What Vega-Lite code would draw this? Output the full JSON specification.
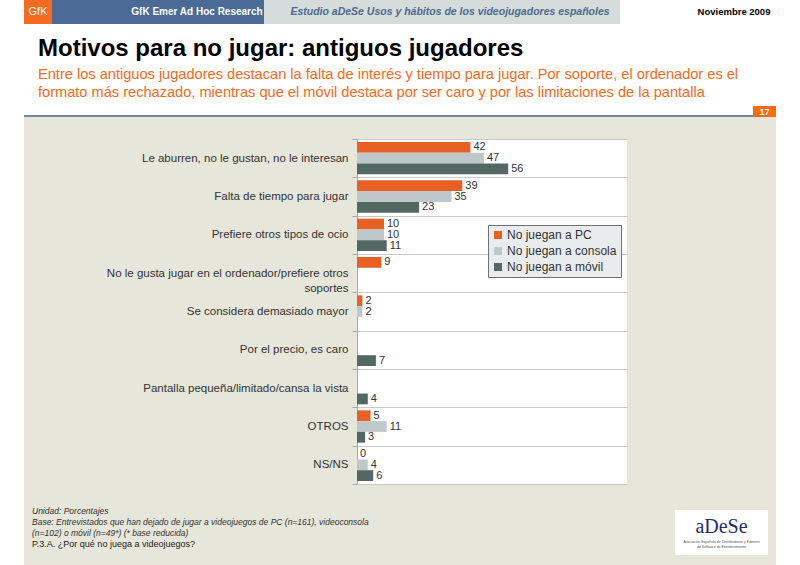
{
  "$schema": "https://vega.github.io/schema/vega-lite/v6.json",
  "background": "#E7E6DA",
  "padding": 0,
  "spacing": 0,
  "config": {"view": {"stroke": null}, "font": "Liberation Sans", "concat": {"spacing": 0}},
  "vconcat": [
    {"spacing": 0, "hconcat": [
      {"width": 24, "height": 24, "view": {"fill": "white"}, "data": {"values": [{"t": ""}]}, "mark": {"type": "text", "fontSize": 1}, "encoding": {"text": {"field": "t"}}},
      {"width": 28, "height": 24, "view": {"fill": "#F26B21"}, "data": {"values": [{"t": "GfK"}]}, "mark": {"type": "text", "color": "white", "fontSize": 11}, "encoding": {"text": {"field": "t"}}},
      {"width": 212, "height": 24, "view": {"fill": "#4B6A95"}, "data": {"values": [{"t": "GfK Emer Ad Hoc Research"}]}, "mark": {"type": "text", "color": "white", "fontSize": 10, "fontWeight": "bold", "dx": 39}, "encoding": {"text": {"field": "t"}}},
      {"width": 356, "height": 24, "view": {"fill": "#D6DCDB"}, "data": {"values": [{"t": "Estudio aDeSe Usos y hábitos de los videojugadores españoles"}]}, "mark": {"type": "text", "color": "#4C6A8C", "fontSize": 10.5, "fontWeight": "bold", "fontStyle": "italic", "dx": 8}, "encoding": {"text": {"field": "t"}}},
      {"width": 180, "height": 24, "view": {"fill": "white"}, "data": {"values": [{"t": "Noviembre 2009"}]}, "mark": {"type": "text", "color": "black", "fontSize": 9.5, "fontWeight": "bold", "dx": 24}, "encoding": {"text": {"field": "t"}}}
    ]},
    {"width": 800, "height": 82, "view": {"fill": "white"}, "data": {"values": [{"t": ""}]}, "mark": {"type": "text", "fontSize": 1}, "encoding": {"text": {"field": "t"}},
     "title": {"text": "Motivos para no jugar: antiguos jugadores",
       "subtitle": ["Entre los antiguos jugadores destacan la falta de interés y tiempo para jugar. Por soporte, el ordenador es el", "formato más rechazado, mientras que el móvil destaca por ser caro y por las limitaciones de la pantalla"],
       "orient": "bottom", "anchor": "start", "frame": "group", "dx": 38, "offset": -69,
       "fontSize": 24, "fontWeight": "bold", "color": "#000000",
       "subtitleColor": "#F26B21", "subtitleFontSize": 14.6, "subtitleLineHeight": 18, "subtitlePadding": 6}},
    {"spacing": 0, "hconcat": [
      {"width": 24, "height": 11, "view": {"fill": "white"}, "data": {"values": [{"t": ""}]}, "mark": {"type": "text", "fontSize": 1}, "encoding": {"text": {"field": "t"}}},
      {"spacing": 0, "vconcat": [
        {"width": 729, "height": 9, "view": {"fill": "white"}, "data": {"values": [{"t": ""}]}, "mark": {"type": "text", "fontSize": 1}, "encoding": {"text": {"field": "t"}}},
        {"width": 729, "height": 2, "view": {"fill": "#6F88A8"}, "data": {"values": [{"t": ""}]}, "mark": {"type": "text", "fontSize": 1}, "encoding": {"text": {"field": "t"}}}
      ]},
      {"width": 23, "height": 11, "view": {"fill": "#F96A12"}, "data": {"values": [{"t": "17"}]}, "mark": {"type": "text", "color": "white", "fontSize": 9, "fontWeight": "bold"}, "encoding": {"text": {"field": "t"}}},
      {"width": 24, "height": 11, "view": {"fill": "white"}, "data": {"values": [{"t": ""}]}, "mark": {"type": "text", "fontSize": 1}, "encoding": {"text": {"field": "t"}}}
    ]},
    {"spacing": 0, "hconcat": [
      {"width": 24, "height": 448, "view": {"fill": "white"}, "data": {"values": [{"t": ""}]}, "mark": {"type": "text", "fontSize": 1}, "encoding": {"text": {"field": "t"}}},
      {"spacing": 0, "vconcat": [
        {"width": 10, "height": 16, "data": {"values": [{"t": ""}]}, "mark": {"type": "text", "fontSize": 1}, "encoding": {"text": {"field": "t"}}},
        {
          "width": 270, "height": 345,
          "view": {"fill": "white", "stroke": null},
          "data": {"values": [
            {"motivo": "Le aburren, no le gustan, no le interesan", "serie": "No juegan a PC", "valor": 42},
            {"motivo": "Le aburren, no le gustan, no le interesan", "serie": "No juegan a consola", "valor": 47},
            {"motivo": "Le aburren, no le gustan, no le interesan", "serie": "No juegan a móvil", "valor": 56},
            {"motivo": "Falta de tiempo para jugar", "serie": "No juegan a PC", "valor": 39},
            {"motivo": "Falta de tiempo para jugar", "serie": "No juegan a consola", "valor": 35},
            {"motivo": "Falta de tiempo para jugar", "serie": "No juegan a móvil", "valor": 23},
            {"motivo": "Prefiere otros tipos de ocio", "serie": "No juegan a PC", "valor": 10},
            {"motivo": "Prefiere otros tipos de ocio", "serie": "No juegan a consola", "valor": 10},
            {"motivo": "Prefiere otros tipos de ocio", "serie": "No juegan a móvil", "valor": 11},
            {"motivo": "No le gusta jugar en el ordenador/prefiere otros|soportes", "serie": "No juegan a PC", "valor": 9},
            {"motivo": "Se considera demasiado mayor", "serie": "No juegan a PC", "valor": 2},
            {"motivo": "Se considera demasiado mayor", "serie": "No juegan a consola", "valor": 2},
            {"motivo": "Por el precio, es caro", "serie": "No juegan a móvil", "valor": 7},
            {"motivo": "Pantalla pequeña/limitado/cansa la vista", "serie": "No juegan a móvil", "valor": 4},
            {"motivo": "OTROS", "serie": "No juegan a PC", "valor": 5},
            {"motivo": "OTROS", "serie": "No juegan a consola", "valor": 11},
            {"motivo": "OTROS", "serie": "No juegan a móvil", "valor": 3},
            {"motivo": "NS/NS", "serie": "No juegan a PC", "valor": 0},
            {"motivo": "NS/NS", "serie": "No juegan a consola", "valor": 4},
            {"motivo": "NS/NS", "serie": "No juegan a móvil", "valor": 6}
          ]},
          "encoding": {
            "y": {"field": "motivo", "type": "nominal",
              "sort": ["Le aburren, no le gustan, no le interesan", "Falta de tiempo para jugar", "Prefiere otros tipos de ocio", "No le gusta jugar en el ordenador/prefiere otros|soportes", "Se considera demasiado mayor", "Por el precio, es caro", "Pantalla pequeña/limitado/cansa la vista", "OTROS", "NS/NS"],
              "scale": {"paddingInner": 0, "paddingOuter": 0},
              "axis": {"title": null, "labelFontSize": 11.5, "labelColor": "#333333", "labelLimit": 0, "labelPadding": 4,
                "tickSize": 5, "tickColor": "#A8A8A8", "tickBand": "extent", "grid": true, "gridColor": "#C9C9C9", "domainColor": "#A8A8A8", "minExtent": 333, "maxExtent": 333, "labelLineHeight": 15,
                "labelExpr": "split(datum.label, '|')"}},
            "yOffset": {"field": "serie", "type": "nominal", "sort": ["No juegan a PC", "No juegan a consola", "No juegan a móvil"], "scale": {"paddingInner": 0, "paddingOuter": 0.28}},
            "x": {"field": "valor", "type": "quantitative", "scale": {"domain": [0, 100]}, "axis": null}
          },
          "layer": [
            {"mark": {"type": "bar"},
             "encoding": {"color": {"field": "serie", "type": "nominal",
               "scale": {"domain": ["No juegan a PC", "No juegan a consola", "No juegan a móvil"], "range": ["#E66123", "#BEC8CB", "#546863"]},
               "legend": {"orient": "none", "legendX": 488, "legendY": 225, "title": null, "fillColor": "#E9ECEC", "strokeColor": "#707070", "padding": 4, "labelFontSize": 12, "labelColor": "#333333", "symbolType": "square", "symbolSize": 64, "symbolStrokeWidth": 0, "rowPadding": 4, "labelOffset": 3}}}},
            {"mark": {"type": "text", "align": "left", "dx": 3, "fontSize": 11, "color": "#333333"},
             "encoding": {"text": {"field": "valor", "type": "quantitative"}}}
          ],
          "title": {"text": ["Unidad: Porcentajes", "Base: Entrevistados que han dejado de jugar a videojuegos de PC (n=161), videoconsola", "(n=102) o móvil (n=49*) (* base reducida)"],
            "subtitle": "P.3.A. ¿Por qué no juega a videojuegos?",
            "orient": "bottom", "anchor": "start", "frame": "bounds", "dx": 8, "offset": 22,
            "fontSize": 8.5, "fontStyle": "italic", "fontWeight": "normal", "color": "#333333", "lineHeight": 11,
            "subtitleFontSize": 9, "subtitleColor": "#222222", "subtitlePadding": 3}
        }
      ]},
      {"spacing": 0, "vconcat": [
        {"width": 149, "height": 393, "data": {"values": [{"t": ""}]}, "mark": {"type": "text", "fontSize": 1}, "encoding": {"text": {"field": "t"}}},
        {"spacing": 0, "hconcat": [
          {"width": 48, "height": 45, "data": {"values": [{"t": ""}]}, "mark": {"type": "text", "fontSize": 1}, "encoding": {"text": {"field": "t"}}},
          {"width": 93, "height": 45, "view": {"fill": "white"},
           "layer": [
             {"data": {"values": [{"t": "aDeSe"}]}, "mark": {"type": "text", "font": "Liberation Serif", "fontSize": 20, "color": "#1F2D6B", "dy": -6}, "encoding": {"text": {"field": "t"}}},
             {"data": {"values": [{"t": "Asociación Española de Distribuidores y Editores"}]}, "mark": {"type": "text", "fontSize": 3.5, "color": "#555555", "dy": 9}, "encoding": {"text": {"field": "t"}}},
             {"data": {"values": [{"t": "de Software de Entretenimiento"}]}, "mark": {"type": "text", "fontSize": 3.5, "color": "#555555", "dy": 14}, "encoding": {"text": {"field": "t"}}}
           ]},
          {"width": 8, "height": 45, "data": {"values": [{"t": ""}]}, "mark": {"type": "text", "fontSize": 1}, "encoding": {"text": {"field": "t"}}}
        ]}
      ]},
      {"width": 24, "height": 448, "view": {"fill": "white"}, "data": {"values": [{"t": ""}]}, "mark": {"type": "text", "fontSize": 1}, "encoding": {"text": {"field": "t"}}}
    ]}
  ]
}
